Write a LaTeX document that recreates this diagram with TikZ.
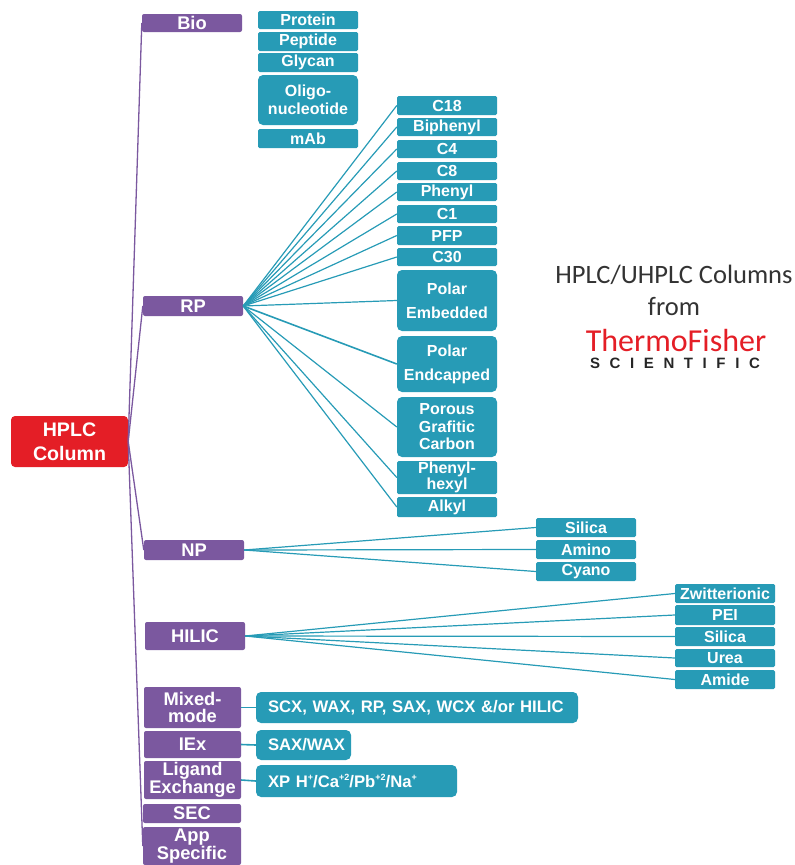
\documentclass[tikz,border=0pt]{standalone}
\usepackage{fontspec}
\setmainfont{Liberation Sans}
\newfontfamily\thinfont{Carlito}
\newfontfamily\scifont[LetterSpace=64]{Liberation Sans}
\newcommand{\bx}[7][]{%
  \node[#6,minimum width={(#4-#2)*1pt},minimum height={(#5-#3)*1pt},#1] (#7) at ({(#2+#4)/2},{(#3+#5)/2})}
\newcommand{\supr}[1]{\raisebox{0.42em}{\fontsize{9}{9}\selectfont #1}}
\definecolor{purp}{HTML}{7B589F}
\definecolor{teal1}{HTML}{279BB6}
\definecolor{red1}{HTML}{E41E26}
\tikzset{
  basebox/.style={inner sep=0pt,text=white,align=center,font=\bfseries\fontsize{16}{17}\selectfont},
  rootbox/.style={basebox,fill=red1,rounded corners=4pt,font=\bfseries\fontsize{19.6}{24}\selectfont},
  catbox/.style={basebox,fill=purp,rounded corners=2pt,font=\bfseries\fontsize{18.3}{17.5}\selectfont},
  subbox/.style={basebox,fill=teal1,rounded corners=1.5pt,font=\bfseries\fontsize{16}{15.5}\selectfont},
  bigbox/.style={subbox,rounded corners=5pt},
  widebox/.style={basebox,fill=teal1,rounded corners=5pt,align=left,font=\bfseries\fontsize{16.7}{18}\selectfont},
  trunk/.style={draw=purp,line width=1.3pt},
  twig/.style={draw=teal1,line width=1.2pt},
  thicktwig/.style={draw=teal1,line width=1.6pt},
  titletext/.style={inner sep=0pt,align=center,text=black!80,font=\thinfont\fontsize{26.5}{32}\selectfont}
}
\begin{document}
\begin{tikzpicture}[x=1pt,y=-1pt]
\useasboundingbox (0,0) rectangle (795,865);
\bx{11}{416}{128}{467}{rootbox}{root} {HPLC\\Column};
\bx{142}{14}{242}{32}{catbox}{bio} {Bio};
\bx{143}{296}{243}{316}{catbox}{rp} {RP};
\bx{144}{540}{244}{560}{catbox}{np} {NP};
\bx{145}{622}{245}{650}{catbox}{hilic} {HILIC};
\bx{144}{687}{241}{728}{catbox}{mixed} {Mixed-\\mode};
\bx{144}{731}{241}{758}{catbox}{iex} {IEx};
\bx{144}{761}{241}{799}{catbox}{ligand} {Ligand\\Exchange};
\bx{143}{804}{241}{823}{catbox}{sec} {SEC};
\bx{143}{827}{241}{865}{catbox}{app} {App\\Specific};
% Bio
\bx{258}{11}{358}{29}{subbox}{protein} {Protein};
\bx{258}{32}{358}{51}{subbox}{peptide} {Peptide};
\bx{258}{53}{358}{72}{subbox}{glycan} {Glycan};
\bx[font=\bfseries\fontsize{16}{18}\selectfont]{258}{75}{358}{125}{bigbox}{oligo} {Oligo-\\nucleotide};
\bx{258}{129}{358}{148}{subbox}{mab} {mAb};
% RP
\bx{397}{96}{497}{115}{subbox}{c18} {C18};
\bx{397}{118}{497}{136}{subbox}{biphenyl} {Biphenyl};
\bx{397}{140}{497}{158}{subbox}{c4} {C4};
\bx{397}{162}{497}{180}{subbox}{c8} {C8};
\bx{397}{183}{497}{201}{subbox}{phenyl} {Phenyl};
\bx{397}{205}{497}{223}{subbox}{c1} {C1};
\bx{397}{226}{497}{245}{subbox}{pfp} {PFP};
\bx{397}{248}{497}{266}{subbox}{c30} {C30};
\bx[font=\bfseries\fontsize{16}{24}\selectfont]{397}{270}{497}{331}{bigbox}{polemb} {Polar\\Embedded};
\bx[font=\bfseries\fontsize{16}{24}\selectfont]{397}{336}{497}{392}{bigbox}{polend} {Polar\\Endcapped};
\bx[font=\bfseries\fontsize{16}{17.5}\selectfont]{397}{397}{497}{457}{bigbox}{porous} {Porous\\Grafitic\\Carbon};
\bx{397}{461}{497}{494}{subbox}{phenhex} {Phenyl-\\hexyl};
\bx{397}{497}{497}{517}{subbox}{alkyl} {Alkyl};
% NP
\bx{536}{518}{636}{537}{subbox}{npsilica} {Silica};
\bx{536}{540}{636}{559}{subbox}{npamino} {Amino};
\bx{536}{562}{636}{581}{subbox}{npcyano} {Cyano};
% HILIC
\bx{675}{584}{775}{603}{subbox}{zwit} {Zwitterionic};
\bx{675}{605}{775}{625}{subbox}{pei} {PEI};
\bx{675}{627}{775}{646}{subbox}{hsilica} {Silica};
\bx{675}{649}{775}{667}{subbox}{urea} {Urea};
\bx{675}{670}{775}{689}{subbox}{amide} {Amide};
% Wide boxes
\bx[inner xsep=12pt,text width=298pt]{256}{692}{578}{723}{widebox}{scx} {SCX, WAX, RP, SAX, WCX \&/or HILIC};
\bx[inner xsep=12pt,text width=71pt]{256}{730}{351}{760}{widebox}{saxwax} {SAX/WAX};
\bx[inner xsep=12pt,text width=177pt]{256}{765}{457}{797}{widebox}{xp} {XP H\supr{+}/Ca\supr{+2}/Pb\supr{+2}/Na\supr{+}};
% Title
\node[titletext] (title) at (674,290) {HPLC/UHPLC Columns\\from};
\node[inner sep=0pt,text=red1,font=\thinfont\fontsize{32}{32}\selectfont] (thermo) at (676,341) {ThermoFisher};
\node[inner sep=0pt,text=black!85,font=\scifont\bfseries\fontsize{15}{15}\selectfont] (sci) at (675,363) {SCIENTIFIC};
% Trunk connectors
\foreach \t in {bio,rp,np,app}
  \draw[trunk] (root.east) -- (\t.west);
% RP fan
\foreach \t in {c18,biphenyl,c4,c8,phenyl,c1,pfp,c30,polemb,porous,phenhex,alkyl}
  \draw[twig] (rp.east) -- (\t.west);
\draw[thicktwig] (rp.east) -- (polend.west);
\foreach \t in {npsilica,npamino,npcyano}
  \draw[twig] (np.east) -- (\t.west);
\foreach \t in {zwit,pei,hsilica,urea,amide}
  \draw[twig] (hilic.east) -- (\t.west);
\draw[thicktwig] (mixed.east) -- (scx.west);
\draw[thicktwig] (iex.east) -- (saxwax.west);
\draw[thicktwig] (ligand.east) -- (xp.west);
\end{tikzpicture}
\end{document}
